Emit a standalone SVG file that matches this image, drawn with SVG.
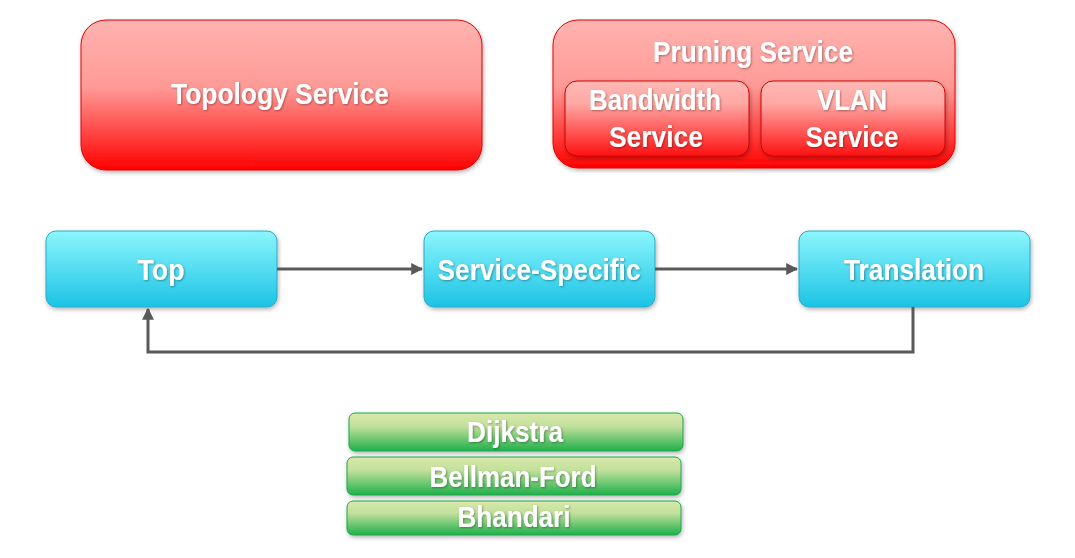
<svg xmlns="http://www.w3.org/2000/svg" width="1075" height="558" viewBox="0 0 1075 558">
<defs>
<linearGradient id="gRed" x1="0" y1="0" x2="0" y2="1">
<stop offset="0" stop-color="#ffb3b0"/><stop offset="0.45" stop-color="#ff9a96"/><stop offset="1" stop-color="#ff0000"/>
</linearGradient>
<linearGradient id="gRedIn" x1="0" y1="0" x2="0" y2="1">
<stop offset="0" stop-color="#ffb8b4"/><stop offset="0.3" stop-color="#ffa8a4"/><stop offset="1" stop-color="#ff1010"/>
</linearGradient>
<linearGradient id="gBlue" x1="0" y1="0" x2="0" y2="1">
<stop offset="0" stop-color="#8cf6fd"/><stop offset="1" stop-color="#1bc3e5"/>
</linearGradient>
<linearGradient id="gGreen" x1="0" y1="0" x2="0" y2="1">
<stop offset="0" stop-color="#d9e8aa"/><stop offset="0.35" stop-color="#c2e09c"/><stop offset="1" stop-color="#1fb04a"/>
</linearGradient>
<filter id="sh" x="-10%" y="-10%" width="120%" height="130%">
<feDropShadow dx="1" dy="2" stdDeviation="2" flood-color="#000" flood-opacity="0.3"/>
</filter>
<filter id="tsh" x="-10%" y="-20%" width="120%" height="150%">
<feDropShadow dx="1" dy="1" stdDeviation="0.8" flood-color="#000" flood-opacity="0.35"/>
</filter>
<marker id="arr" viewBox="0 0 10 10" refX="9" refY="5" markerWidth="4" markerHeight="4" orient="auto" markerUnits="strokeWidth">
<path d="M0,0 L10,5 L0,10 z" fill="#595959"/>
</marker>
</defs>
<style>
.red{fill:url(#gRed);stroke:#e00000;stroke-width:1;filter:url(#sh)}
.redin{fill:url(#gRedIn);stroke:#d00000;stroke-width:1;filter:url(#sh)}
.blue{fill:url(#gBlue);stroke:#2ba9c9;stroke-width:1;filter:url(#sh)}
.green{fill:url(#gGreen);stroke:#1aa84a;stroke-width:1;filter:url(#sh)}
.t{font-family:"Liberation Sans",Arial,sans-serif;font-weight:bold;font-size:30px;fill:#ffffff;text-anchor:middle;filter:url(#tsh)}
.conn{stroke:#595959;stroke-width:3;fill:none}
</style>
<rect width="1075" height="558" fill="#ffffff"/>
<g id="topology">
<rect class="red" x="81" y="20" width="401" height="150" rx="25"/>
<text class="t" x="280" y="104" textLength="218" lengthAdjust="spacingAndGlyphs">Topology Service</text>
</g>
<g id="pruning">
<rect class="red" x="553" y="20" width="402" height="148" rx="25"/>
<text class="t" x="753" y="62" textLength="200" lengthAdjust="spacingAndGlyphs">Pruning Service</text>
</g>
<g id="bandwidth">
<rect class="redin" x="565" y="81" width="184" height="75" rx="12"/>
<text class="t" x="655" y="110" textLength="132" lengthAdjust="spacingAndGlyphs">Bandwidth</text>
<text class="t" x="656" y="147" textLength="94" lengthAdjust="spacingAndGlyphs">Service</text>
</g>
<g id="vlan">
<rect class="redin" x="761" y="81" width="184" height="75" rx="12"/>
<text class="t" x="852" y="110" textLength="70" lengthAdjust="spacingAndGlyphs">VLAN</text>
<text class="t" x="852" y="147" textLength="93" lengthAdjust="spacingAndGlyphs">Service</text>
</g>
<g id="top">
<rect class="blue" x="46" y="231" width="231" height="76" rx="10"/>
<text class="t" x="161" y="280" textLength="47" lengthAdjust="spacingAndGlyphs">Top</text>
</g>
<g id="service-specific">
<rect class="blue" x="424" y="231" width="231" height="76" rx="10"/>
<text class="t" x="539" y="280" textLength="203" lengthAdjust="spacingAndGlyphs">Service-Specific</text>
</g>
<g id="translation">
<rect class="blue" x="799" y="231" width="231" height="76" rx="10"/>
<text class="t" x="914" y="280" textLength="140" lengthAdjust="spacingAndGlyphs">Translation</text>
</g>
<g id="connectors">
<line class="conn" x1="277" y1="269" x2="422" y2="269" marker-end="url(#arr)"/>
<line class="conn" x1="655" y1="269" x2="797" y2="269" marker-end="url(#arr)"/>
<polyline class="conn" points="913,307 913,352 148,352 148,309" marker-end="url(#arr)"/>
</g>
<g id="dijkstra">
<rect class="green" x="349" y="413" width="334" height="38" rx="6"/>
<text class="t" x="515" y="442" textLength="96" lengthAdjust="spacingAndGlyphs">Dijkstra</text>
</g>
<g id="bellman-ford">
<rect class="green" x="347" y="457" width="334" height="38" rx="6"/>
<text class="t" x="513" y="487" textLength="167" lengthAdjust="spacingAndGlyphs">Bellman-Ford</text>
</g>
<g id="bhandari">
<rect class="green" x="347" y="501" width="334" height="34" rx="6"/>
<text class="t" x="514" y="527" textLength="113" lengthAdjust="spacingAndGlyphs">Bhandari</text>
</g>
</svg>
